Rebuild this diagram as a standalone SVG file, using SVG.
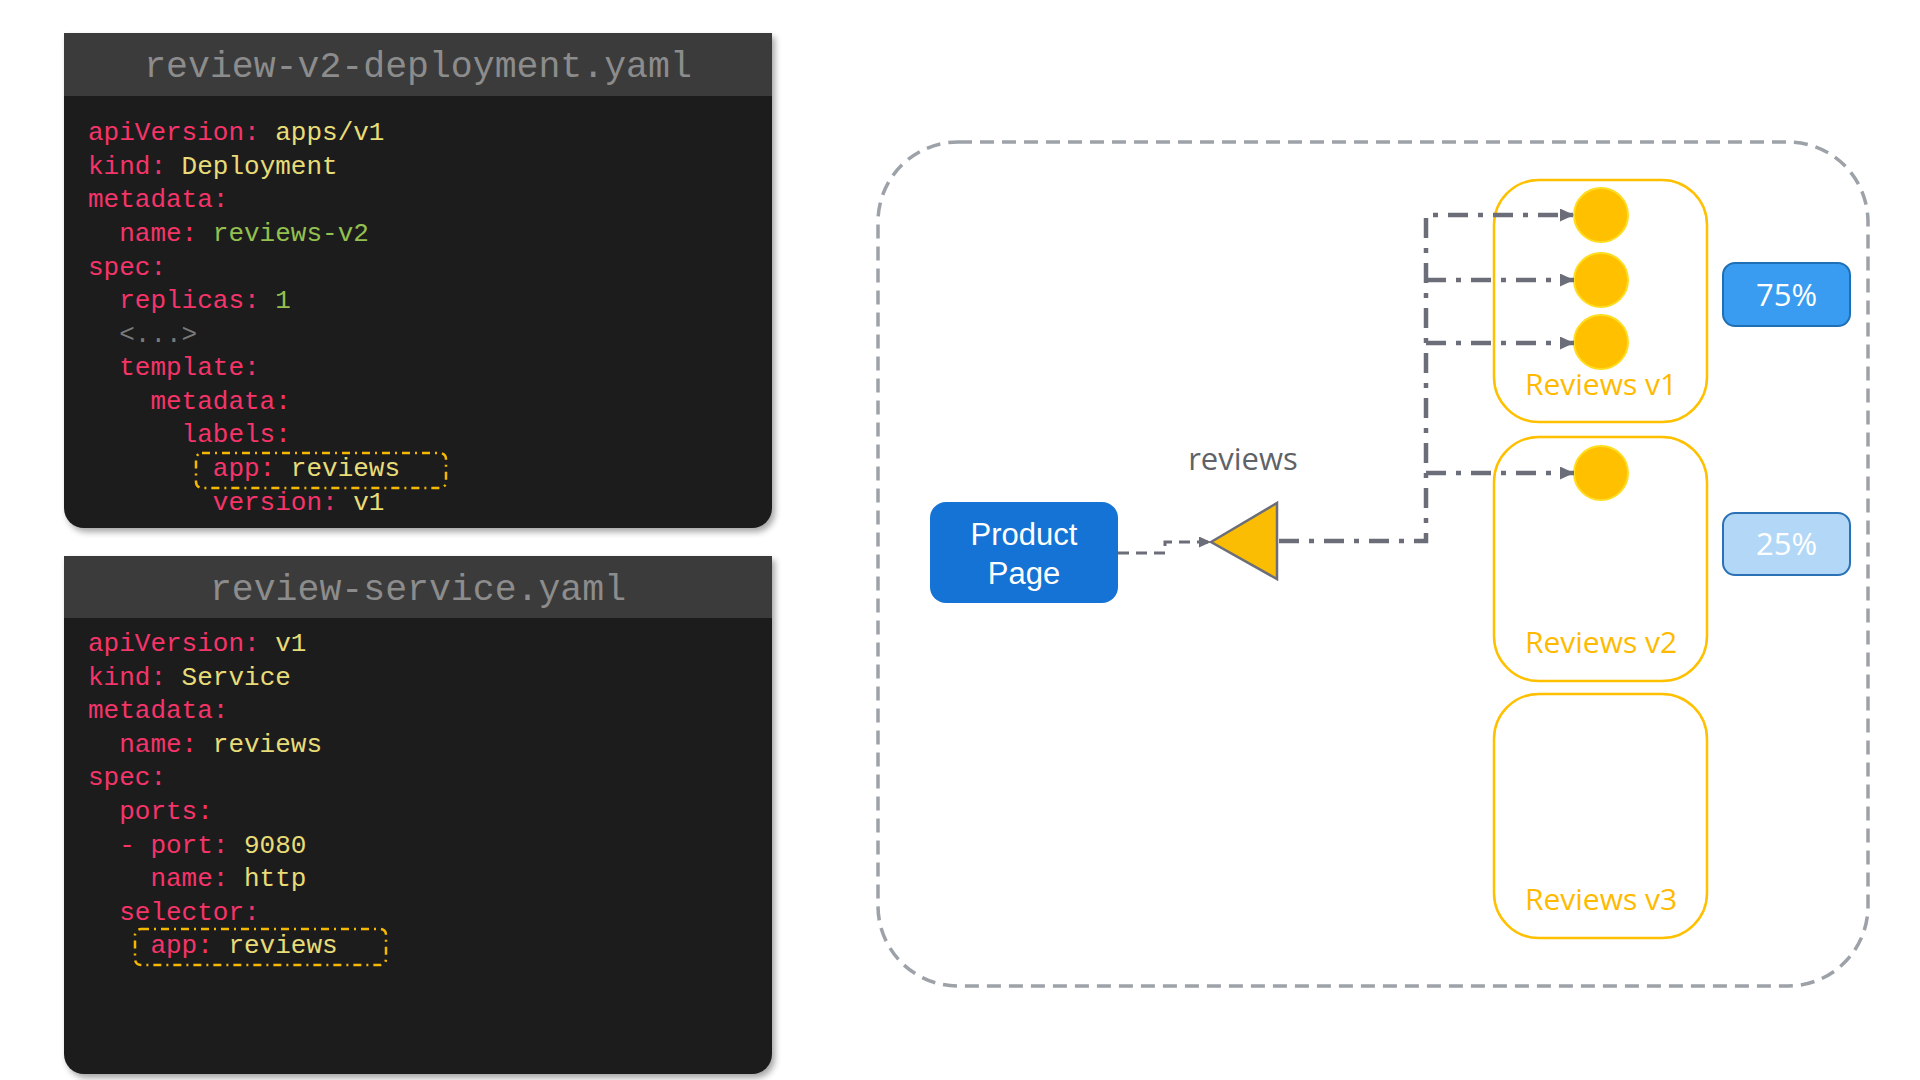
<svg xmlns="http://www.w3.org/2000/svg" width="1920" height="1080" viewBox="0 0 1920 1080">
<defs>
<style>
.code{font-family:"Liberation Mono","DejaVu Sans Mono",monospace;font-size:26px}
.k{fill:#f5346a}.y{fill:#e8dc78}.g{fill:#93c04f}.gr{fill:#7a7a7a}
.title{font-family:"Liberation Mono","DejaVu Sans Mono",monospace;font-size:36.5px;fill:#8c8c8c;text-anchor:middle}
.hdr{fill:#3b3b3b}.body{fill:#1b1b1b}
.sel{fill:none;stroke:#f5b800;stroke-width:2.5;stroke-dasharray:8 5 2 5}
.pod{fill:#ffc000;stroke:#ffdd22;stroke-width:2}
.rbox{fill:#fff;stroke:#ffc000;stroke-width:2.5}
.rlbl{font-family:"Open Sans","Liberation Sans",sans-serif;font-size:30px;fill:#ffba00;text-anchor:middle}
.conn{fill:none;stroke:#6b6e78;stroke-width:4.5;stroke-dasharray:20 10 5 10}
.pct{font-family:"Open Sans","Liberation Sans",sans-serif;font-size:31px;fill:#fff;text-anchor:middle}
</style>
<filter id="sh" x="-5%" y="-5%" width="115%" height="115%">
<feDropShadow dx="3" dy="4" stdDeviation="3" flood-color="#000" flood-opacity="0.35"/>
</filter>
<marker id="ah" markerUnits="userSpaceOnUse" markerWidth="16" markerHeight="14" refX="14" refY="6.5" orient="auto">
<path d="M0,0 L14,6.5 L0,13 Z" fill="#6b6e78"/>
</marker>
<marker id="ahs" markerUnits="userSpaceOnUse" markerWidth="14" markerHeight="12" refX="12" refY="5.5" orient="auto">
<path d="M0,0 L12,5.5 L0,11 Z" fill="#6b6e78"/>
</marker>
</defs>
<rect width="1920" height="1080" fill="#fff"/>

<g id="panel-deployment">
<path class="body" filter="url(#sh)" d="M64,33 H772 V508 A20 20 0 0 1 752,528 H84 A20 20 0 0 1 64,508 Z"/>
<rect class="hdr" x="64" y="33" width="708" height="63"/>
<text class="title" x="418" y="77">review-v2-deployment.yaml</text>
<rect class="sel" x="196" y="453" width="250" height="35" rx="6"/>
<g class="code" xml:space="preserve">
<text x="88" y="140"><tspan class="k">apiVersion:</tspan><tspan class="y"> apps/v1</tspan></text>
<text x="88" y="173.5"><tspan class="k">kind:</tspan><tspan class="y"> Deployment</tspan></text>
<text x="88" y="207"><tspan class="k">metadata:</tspan></text>
<text x="119.2" y="241"><tspan class="k">name:</tspan><tspan class="g"> reviews-v2</tspan></text>
<text x="88" y="274.5"><tspan class="k">spec:</tspan></text>
<text x="119.2" y="308"><tspan class="k">replicas:</tspan><tspan class="g"> 1</tspan></text>
<text x="119.2" y="341.5" class="gr">&lt;...&gt;</text>
<text x="119.2" y="375"><tspan class="k">template:</tspan></text>
<text x="150.4" y="408.5"><tspan class="k">metadata:</tspan></text>
<text x="181.6" y="442"><tspan class="k">labels:</tspan></text>
<text x="212.8" y="476"><tspan class="k">app:</tspan><tspan class="y"> reviews</tspan></text>
<text x="212.8" y="509.5"><tspan class="k">version:</tspan><tspan class="y"> v1</tspan></text>
</g>
</g>

<g id="panel-service">
<path class="body" filter="url(#sh)" d="M64,556 H772 V1054 A20 20 0 0 1 752,1074 H84 A20 20 0 0 1 64,1054 Z"/>
<rect class="hdr" x="64" y="556" width="708" height="62"/>
<text class="title" x="418" y="600">review-service.yaml</text>
<rect class="sel" x="135" y="929" width="251" height="36" rx="6"/>
<g class="code" xml:space="preserve">
<text x="88" y="651"><tspan class="k">apiVersion:</tspan><tspan class="y"> v1</tspan></text>
<text x="88" y="684.6"><tspan class="k">kind:</tspan><tspan class="y"> Service</tspan></text>
<text x="88" y="718.2"><tspan class="k">metadata:</tspan></text>
<text x="119.2" y="751.8"><tspan class="k">name:</tspan><tspan class="y"> reviews</tspan></text>
<text x="88" y="785.4"><tspan class="k">spec:</tspan></text>
<text x="119.2" y="819"><tspan class="k">ports:</tspan></text>
<text x="119.2" y="852.6"><tspan class="k">- port:</tspan><tspan class="y"> 9080</tspan></text>
<text x="150.4" y="886.2"><tspan class="k">name:</tspan><tspan class="y"> http</tspan></text>
<text x="119.2" y="919.8"><tspan class="k">selector:</tspan></text>
<text x="150.4" y="953.4"><tspan class="k">app:</tspan><tspan class="y"> reviews</tspan></text>
</g>
</g>

<g id="mesh-boundary">
<rect x="878" y="142" width="990" height="844" rx="80" fill="none" stroke="#9da1a8" stroke-width="3.5" stroke-dasharray="14 8"/>
</g>

<g id="reviews-v1">
<rect class="rbox" x="1494" y="180" width="213" height="242" rx="45"/>
<circle class="pod" cx="1601" cy="215" r="27"/>
<circle class="pod" cx="1601" cy="280" r="27"/>
<circle class="pod" cx="1601" cy="342" r="27"/>
<text class="rlbl" x="1601" y="395">Reviews v1</text>
</g>
<g id="reviews-v2">
<rect class="rbox" x="1494" y="437" width="213" height="244" rx="45"/>
<circle class="pod" cx="1601" cy="473" r="27"/>
<text class="rlbl" x="1601" y="653">Reviews v2</text>
</g>
<g id="reviews-v3">
<rect class="rbox" x="1494" y="694" width="213" height="244" rx="45"/>
<text class="rlbl" x="1601" y="910">Reviews v3</text>
</g>

<g id="weight-75">
<rect x="1723" y="263" width="127" height="63" rx="12" fill="#3a9cf0" stroke="#1f6fb5" stroke-width="2"/>
<text class="pct" x="1786.5" y="305.5">75%</text>
</g>
<g id="weight-25">
<rect x="1723" y="513" width="127" height="62" rx="12" fill="#b3d8f7" stroke="#2a72b5" stroke-width="2"/>
<text class="pct" x="1786.5" y="555">25%</text>
</g>

<g id="product-page">
<rect x="930" y="502" width="188" height="101" rx="16" fill="#1473d4"/>
<text x="1024" y="545" font-family="Liberation Sans, Arial, sans-serif" font-size="31" fill="#fff" text-anchor="middle">Product</text>
<text x="1024" y="584" font-family="Liberation Sans, Arial, sans-serif" font-size="31" fill="#fff" text-anchor="middle">Page</text>
</g>

<g id="reviews-service">
<text x="1243" y="470" font-family="Open Sans, Liberation Sans, sans-serif" font-size="31" fill="#5f6368" text-anchor="middle">reviews</text>
<polygon points="1211,542 1277,503 1277,579" fill="#fbbc04" stroke="#6b6e78" stroke-width="2.5" stroke-linejoin="miter"/>
</g>

<g id="connectors">
<path d="M1118,553 H1165 V542 H1211" fill="none" stroke="#6b6e78" stroke-width="3" stroke-dasharray="11 7" marker-end="url(#ahs)"/>
<path class="conn" d="M1279,541 H1426 V215 H1574" marker-end="url(#ah)"/>
<path class="conn" d="M1426,280 H1574" marker-end="url(#ah)"/>
<path class="conn" d="M1426,343 H1574" marker-end="url(#ah)"/>
<path class="conn" d="M1426,473 H1574" marker-end="url(#ah)"/>
</g>
</svg>
